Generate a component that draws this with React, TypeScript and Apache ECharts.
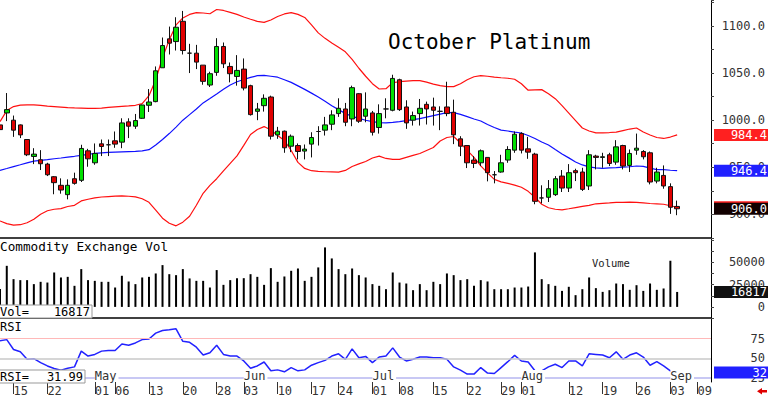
import React, { useEffect, useRef } from 'react';
import * as echarts from 'echarts';

const dates = [
  '2024-04-11','2024-04-12','2024-04-15','2024-04-16','2024-04-17','2024-04-18','2024-04-19','2024-04-22','2024-04-23','2024-04-24','2024-04-25','2024-04-26','2024-04-29','2024-04-30',
  '2024-05-01','2024-05-02','2024-05-03','2024-05-06','2024-05-07','2024-05-08','2024-05-09','2024-05-10','2024-05-13','2024-05-14','2024-05-15','2024-05-16','2024-05-17','2024-05-20','2024-05-21','2024-05-22','2024-05-23','2024-05-24','2024-05-28','2024-05-29','2024-05-30','2024-05-31',
  '2024-06-03','2024-06-04','2024-06-05','2024-06-06','2024-06-07','2024-06-10','2024-06-11','2024-06-12','2024-06-13','2024-06-14','2024-06-17','2024-06-18','2024-06-20','2024-06-21','2024-06-24','2024-06-25','2024-06-26','2024-06-27','2024-06-28',
  '2024-07-01','2024-07-02','2024-07-03','2024-07-05','2024-07-08','2024-07-09','2024-07-10','2024-07-11','2024-07-12','2024-07-15','2024-07-16','2024-07-17','2024-07-18','2024-07-19','2024-07-22','2024-07-23','2024-07-24','2024-07-25','2024-07-26','2024-07-29','2024-07-30','2024-07-31',
  '2024-08-01','2024-08-02','2024-08-05','2024-08-06','2024-08-07','2024-08-08','2024-08-09','2024-08-12','2024-08-13','2024-08-14','2024-08-15','2024-08-16','2024-08-19','2024-08-20','2024-08-21','2024-08-22','2024-08-23','2024-08-26','2024-08-27','2024-08-28','2024-08-29','2024-08-30',
  '2024-09-03','2024-09-04','2024-09-05','2024-09-06','2024-09-09','2024-09-10','2024-09-11'
];

const open = [995,1007.7,1000,995,979.5,961.5,958,953.4,940,930.9,921,937.9,936.2,967.5,954.8,974.9,973.9,978.1,976.7,998.2,993.6,1002,1015.8,1019.7,1055.6,1086.3,1083.4,1104.9,1071.1,1071.1,1058.4,1037.3,1050.7,1078.2,1057,1046.4,1054.2,1036.6,1009.4,1015.4,1024.6,984.4,988.3,972.4,973.1,967.2,974.6,988,989.4,995.7,1007,1011.9,1001.3,1028.1,1004.2,1007.7,992.2,1011.9,1010.5,1042.9,1014,1000,1007,1016.8,1014,1009.4,1014,1008.4,980.2,973.1,957.7,954.8,960.5,942.1,945,957.7,968.2,985.8,969.6,964,917.5,918.2,921,940.7,928,946.4,945,930.2,961.9,960.5,963.3,955.5,973.1,952,968.2,966.8,965.4,935.4,941.4,929.5,908.5];
const high = [998,1028.8,1004.9,995.5,980,970.3,968.2,954.8,940.7,938.3,937.2,944.3,973.9,969.6,975.3,979.5,979.5,988,1002,1002,1006.6,1016.5,1033,1057,1087.7,1099.3,1109.2,1115.9,1081,1079.9,1058.4,1051.4,1087,1082.4,1061.2,1069,1065.5,1037.6,1018.3,1027.4,1026,992.9,989,984.8,975.3,974.2,987.2,993.6,1003.5,1010.5,1023.2,1018.3,1036.6,1028.8,1029.5,1009.8,1016.8,1023.2,1048.2,1044,1021.1,1009.1,1022.5,1019.7,1023.9,1014.7,1040.8,1021.8,983,973.1,961.9,968.9,960.5,946,963.3,972.4,988,987.2,982.3,965.4,930.9,936.5,940.7,947.1,953.4,948.5,949.5,968.2,963.3,965.4,965.4,978.8,973.9,968.9,985.8,968.2,966.8,949.5,952,933,914.7];
const low = [985,999,982.3,981,961.9,953.4,947.1,940.7,921.4,922,916,931.6,934.4,950.6,952.7,961.9,961.9,970.7,970.3,981,990.8,1001.3,1008.7,1019,1055.6,1069.7,1073.9,1069.7,1050,1054.2,1037.6,1035.2,1047.1,1055.3,1040.1,1036.6,1031.6,1004.9,1000,1009.1,979.5,980.2,965.4,966.1,958.4,958.4,960.5,973.1,983.7,989.4,1003.5,993.6,993.6,997.1,997.8,983.7,985.8,1002,1009.4,1009.8,990.8,994.3,994.3,995.4,994.3,989.4,1004.2,974.6,961.9,949.2,949.2,951.3,935.1,933,944.3,954.8,965.4,964.7,959,910.8,911.8,913.2,919.6,923.8,923.8,935.4,924.9,925.9,947.8,949.5,951.3,952.7,947.8,945,963.3,958.4,931.9,933,927.3,900.6,899.2];
const close = [990,1011.2,989.4,984.4,963.3,964,953.8,942.1,933.7,925.9,930.9,933,970,959,964.7,972.1,973.9,974.6,997.1,993.6,999.6,1016.1,1019.3,1052.4,1079.2,1081.7,1098.6,1073.9,1071.1,1061.6,1041.2,1049.3,1078.2,1059.8,1049.3,1052.8,1034.1,1005.9,1011.9,1023.2,983,988.3,970.7,983,966.8,969.3,981.6,988,995,1005.6,1012.6,997.8,1034.5,998.9,1011.9,987.2,1007,1011.9,1044.3,1011.2,997.1,1004.9,1012.6,1011.9,1010.5,1009.4,1007,984.4,972.4,954.8,954.1,967.5,944.3,942.1,954.8,968.9,985.1,968.2,966.1,913.9,917.5,927.3,937.9,928,944.3,944.3,926.6,963.3,960.5,961.2,954.1,971.7,951.3,964.7,970.3,961.2,934.4,945,930.2,907.6,906];

const upper = [998.5,1010.2,1014.4,1016,1016.2,1016.2,1015.7,1014.9,1014.4,1013.9,1013.3,1013,1012.8,1012.6,1012.5,1012.8,1013.5,1014.2,1014.7,1015.2,1015.8,1017.6,1026,1042.9,1066.2,1085.2,1101.1,1108.5,1112.2,1114.1,1113.7,1112.9,1117.4,1116.4,1114.3,1112.2,1109.5,1107.1,1104.8,1103.7,1106.3,1110,1112.7,1114.1,1112.2,1109,1101.1,1092.6,1086.8,1082,1077.3,1072.5,1064.6,1055.1,1046.6,1038.7,1033.1,1033.4,1039.8,1040.8,1041.4,1041.9,1041.9,1040.3,1038.2,1036.6,1035.6,1035.6,1038.7,1042.9,1046.1,1047.2,1046.6,1045.6,1045,1044.5,1043.4,1038.7,1031.8,1032.1,1032.4,1028.1,1022.8,1015.4,1007.5,999.6,991.7,988.5,986.6,986.6,986.9,987.4,989,990.6,991.7,987.4,984.3,981.6,980.6,982.1,984.4];
const middle = [946.7,948.7,950.8,952.7,954.7,956.6,957.4,958.1,959.1,959.9,960.9,961.7,962.7,963.8,964.7,965.4,965.8,966.1,966.4,966.7,967,967.5,968.7,973.7,979.5,985.8,992.7,1000,1005.9,1011.8,1018.3,1023,1027.8,1032.7,1037.4,1040.8,1043.1,1045.4,1047.2,1047.6,1046.6,1045.6,1042.9,1040.1,1036.4,1032.7,1028.7,1024.6,1020.2,1015.4,1011.2,1007,1004.1,1001.9,999.9,998.5,997.5,997.2,997.7,998.5,999.6,1000.6,1001.7,1003.3,1004.9,1006.5,1008,1008,1006.2,1003.8,1001.2,999.1,995.4,992.2,989.5,988.5,987.4,986.4,983.7,980.6,976.9,973.7,968.9,964.2,960,955.7,952.5,950.4,949.4,948.8,949.3,949.6,950.1,950.6,951.4,951,949.2,947.6,947.5,946.9,946.4];
const lower = [893.1,890.2,888.6,889.1,891.2,894.9,900.2,903.9,905.5,906.2,908.4,909.7,914.3,916.1,917.5,918.5,919,919.5,919.6,919.3,918.7,916.6,912.9,904.5,896,890.7,887.9,891.8,898.1,909.7,922.4,930.9,937.9,946.2,954.1,962.1,973.2,984.8,990.1,993.2,989.5,983.7,978.4,967.8,955.2,948.8,946.4,945.7,945.3,945.1,944.9,946.7,950.9,953.6,956.2,959.9,961.8,959.4,958.4,958.4,960.5,962.6,964.7,967.9,971,977.9,981.6,982.7,975.8,967.9,960.5,951.5,944.1,937.2,934.6,933,931.1,928.8,924.5,918.2,910.8,907.1,905.5,904.8,906,907.3,908.5,909.7,911.3,911.8,912.2,912.7,912.9,913.1,912.7,912.2,911.6,911.2,910.8,909.2,907.6];

const volume = [20000,46200,31200,30100,30100,25600,28200,27400,38700,33100,33800,23700,42500,30100,29300,28200,28200,21800,35000,28600,25600,33100,33800,37600,47000,36800,35700,42500,32000,29300,29300,21800,41400,24800,30100,32300,32300,36800,33800,24800,43600,28200,34200,40600,43200,29300,33800,44400,66900,54500,42500,36800,43200,35700,33100,25600,23700,19900,38700,27400,26300,18800,25600,18800,28200,25600,37600,35700,30100,31200,23700,30100,28600,19900,19900,19900,21800,21800,22900,61300,31200,25600,23700,18000,22600,13200,19900,33100,21100,16900,18800,26300,25600,19200,24400,18000,26300,19200,20700,51900,16817];

const rsi = [72.5,73.8,61.3,58.3,48.8,49.6,44.6,40.4,37.1,35,37.5,39.2,59.2,52.9,55,59.2,60,60,68.3,66.7,69.6,73.8,74.6,82.1,85.4,86.3,87.5,71.7,70.4,64.2,54.2,57.1,66.7,55,52.9,52.9,46.7,37.5,40.4,45.4,34.2,35.4,32.9,38.3,34.2,35.4,41.3,44.6,47.5,52.9,55.8,48.8,62.1,50.8,52.5,44.6,51.7,52.9,63.3,51.7,46.7,48.8,51.7,51.7,50.8,50.8,48.8,39.2,35,30,30,38.3,31.3,30.8,38.3,45.8,53.8,46.7,45.4,34.2,34.2,39.2,42.5,38.3,46.7,46.7,40.4,55.8,55,54.2,50.8,58.3,48.8,54.2,57.1,51.7,41.3,45.8,40.4,34.2,31.99];
const rsiGapAfter = '2024-08-05';

const dayTicks = ['2024-04-15','2024-04-22','2024-05-01','2024-05-06','2024-05-13','2024-05-20','2024-05-28','2024-06-03','2024-06-10','2024-06-17','2024-06-24','2024-07-01','2024-07-08','2024-07-15','2024-07-22','2024-07-29','2024-08-01','2024-08-12','2024-08-19','2024-08-26','2024-09-03','2024-09-09'];
const monthTicks = ['2024-05-01','2024-06-03','2024-07-01','2024-08-01','2024-09-03'];
const monthNames = ['May','Jun','Jul','Aug','Sep'];
const priceTicks = [900, 950, 1000, 1050, 1100];
const volTicks = [0, 25000, 50000];
const rsiTicks = [25, 50, 75];

const MONO = '"DejaVu Sans Mono", monospace';

export default function App() {
  const ref = useRef<HTMLDivElement>(null);
  useEffect(() => {
    if (!ref.current) return;
    const chart = echarts.init(ref.current, null, { renderer: 'svg' });
    const gapIdx = dates.indexOf(rsiGapAfter);
    const rsiA = rsi.map((v, i) => (i <= gapIdx ? v : null));
    const rsiB = rsi.map((v, i) => (i > gapIdx ? v : null));
    const candles = open.map((o, i) => [o, close[i], low[i], high[i]]);
    const axisLabelBase = { fontFamily: MONO, fontSize: 12, color: '#333' };
    const xBase = (gridIndex: number) => ({
      type: 'category', gridIndex, position: 'bottom', data: dates, boundaryGap: false,
      axisLine: { show: true, onZero: false, lineStyle: { color: '#000', width: 1.5 } },
      axisTick: { show: false }, axisLabel: { show: false }, splitLine: { show: false },
    });
    const yBase = (gridIndex: number, min: number, max: number, interval: number, ticks: number[], fmt: (v: number) => string, showTick: boolean) => ({
      type: 'value', gridIndex, position: 'right', min, max, interval, scale: false,
      axisLine: { show: true, onZero: false, lineStyle: { color: '#000', width: 1 } },
      axisTick: { show: showTick, length: 3, lineStyle: { color: '#444' } },
      splitLine: { show: false },
      axisLabel: { ...axisLabelBase, align: 'right', margin: 54, formatter: (v: number) => (ticks.includes(v) ? fmt(v) : '') },
    });
    chart.setOption({
      animation: false,
      backgroundColor: '#fff',
      textStyle: { fontFamily: MONO },
      grid: [
        { left: -1, right: 55, top: 0, height: 238 },
        { left: -1, right: 55, top: 238, height: 80 },
        { left: -1, right: 55, top: 318, height: 65 },
      ],
      xAxis: [
        xBase(0),
        xBase(1),
        {
          ...xBase(2),
          axisLine: { show: false, onZero: false },
          axisTick: { show: true, length: 12, interval: (_i: number, v: string) => dayTicks.includes(v), lineStyle: { color: '#333', width: 1 } },
          axisLabel: { ...axisLabelBase, show: true, align: 'left', margin: 3, interval: (_i: number, v: string) => dayTicks.includes(v), formatter: (v: string) => v.slice(8) },
        },
        {
          ...xBase(2),
          z: 5,
          axisLine: { show: false, onZero: false },
          axisLabel: {
            ...axisLabelBase, show: true, inside: true, align: 'left', margin: 0,
            backgroundColor: '#fff', padding: [0, 2, 0, 0],
            interval: (_i: number, v: string) => monthTicks.includes(v),
            formatter: (v: string) => monthNames[monthTicks.indexOf(v)] || '',
          },
        },
      ],
      yAxis: [
        yBase(0, 875, 1127.5, 25, priceTicks, (v) => v.toFixed(1), true),
        yBase(1, -12500, 77500, 12500, volTicks, (v) => String(v), true),
        yBase(2, 20, 101.25, 5, rsiTicks, (v) => String(v), false),
      ],
      series: [
        { type: 'line', name: 'Upper', xAxisIndex: 0, yAxisIndex: 0, data: upper, symbol: 'none', clip: true, lineStyle: { color: '#ff1010', width: 1.2 }, z: 1 },
        { type: 'line', name: 'Middle', xAxisIndex: 0, yAxisIndex: 0, data: middle, symbol: 'none', clip: true, lineStyle: { color: '#1010ff', width: 1.2 }, z: 1 },
        { type: 'line', name: 'Lower', xAxisIndex: 0, yAxisIndex: 0, data: lower, symbol: 'none', clip: true, lineStyle: { color: '#ff1010', width: 1.2 }, z: 1 },
        {
          type: 'candlestick', name: 'Price', xAxisIndex: 0, yAxisIndex: 0, data: candles, barWidth: 5, clip: true, z: 3,
          itemStyle: { color: '#00e000', color0: '#e00000', borderColor: '#111', borderColor0: '#111', borderWidth: 1 },
        },
        { type: 'bar', name: 'Volume', xAxisIndex: 1, yAxisIndex: 1, data: volume, barWidth: 2, itemStyle: { color: '#000' } },
        {
          type: 'line', name: 'RSI', xAxisIndex: 2, yAxisIndex: 2, data: rsiA, symbol: 'none', connectNulls: false,
          lineStyle: { color: '#2222ff', width: 1.5 },
          markLine: {
            silent: true, symbol: 'none', label: { show: false },
            data: [
              { yAxis: 75, lineStyle: { color: '#ffb8b8', width: 1, type: 'solid' } },
              { yAxis: 50, lineStyle: { color: '#c8c8c8', width: 1.5, type: 'solid' } },
              { yAxis: 25, lineStyle: { color: '#c8c8f4', width: 2, type: 'solid' } },
            ],
          },
        },
        { type: 'line', name: 'RSI2', xAxisIndex: 2, yAxisIndex: 2, data: rsiB, symbol: 'none', connectNulls: false, lineStyle: { color: '#2222ff', width: 1.5 } },
      ],
    });

    const last = close.length - 1;
    const py = (axis: number, v: number) => chart.convertToPixel({ yAxisIndex: axis } as any, v) as number;
    const font12 = '12px ' + MONO;
    const markers = [
      { axis: 0, v: lower[last], bg: '#ff2020', text: '' },
      { axis: 0, v: upper[last], bg: '#ff2020', text: upper[last].toFixed(1) },
      { axis: 0, v: middle[last], bg: '#2020ff', text: middle[last].toFixed(1) },
      { axis: 0, v: close[last], bg: '#120000', text: close[last].toFixed(1) },
      { axis: 1, v: volume[last], bg: '#111', text: String(volume[last]) },
      { axis: 2, v: rsi[last], bg: '#2020ff', text: String(Math.round(rsi[last])) },
    ];
    const graphics: any[] = [];
    markers.forEach((m, k) => {
      const y = py(m.axis, m.v);
      graphics.push({ type: 'rect', id: 'mr' + k, z: 100 + 2 * k, shape: { x: 714, y: y - 6, width: 54, height: 12 }, style: { fill: m.bg } });
      if (m.text) {
        graphics.push({ type: 'text', id: 'mt' + k, z: 101 + 2 * k, x: 767, y, style: { text: m.text, fill: '#fff', font: font12, textAlign: 'right', align: 'right', textVerticalAlign: 'middle', verticalAlign: 'middle' } });
      }
    });
    const txt = (id: string, x: number, y: number, text: string, size: number, fill = '#000', align = 'left') => ({
      type: 'text', id, z: 120, x, y,
      style: { text, fill, font: `${size}px ${MONO}`, textAlign: align, align, textVerticalAlign: 'middle', verticalAlign: 'middle' },
    });
    graphics.push(txt('title', 388, 42, 'October Platinum', 21));
    graphics.push(txt('volTitle', 0, 246, 'Commodity Exchange Vol', 12.7));
    graphics.push(txt('volName', 592, 262.5, 'Volume', 10.5, '#222'));
    graphics.push(txt('rsiTitle', 0, 327, 'RSI', 12));
    graphics.push({ type: 'rect', id: 'volBox', z: 115, shape: { x: -1, y: 305, width: 93, height: 13 }, style: { fill: '#fff', stroke: '#999', lineWidth: 1 } });
    graphics.push(txt('volLbl', 0, 311.5, 'Vol=', 12));
    graphics.push(txt('volVal', 90, 311.5, String(volume[last]), 12, '#000', 'right'));
    graphics.push({ type: 'rect', id: 'rsiBox', z: 115, shape: { x: -1, y: 370, width: 86, height: 13 }, style: { fill: '#fff', stroke: '#999', lineWidth: 1 } });
    graphics.push(txt('rsiLbl', 0, 376.5, 'RSI=', 12));
    graphics.push(txt('rsiVal', 83, 376.5, rsi[last].toFixed(2), 12, '#000', 'right'));
    graphics.push({
      type: 'polygon', id: 'arrow', z: 100,
      shape: { points: [[757, 391.3], [762, 388], [762, 390], [767, 390], [767, 392.6], [762, 392.6], [762, 394.6]] },
      style: { fill: '#e00000' },
    });
    chart.setOption({ graphic: graphics });
    return () => chart.dispose();
  }, []);
  return (
    <div
      ref={ref}
      style={{ position: 'fixed', left: 0, top: 0, width: 768, height: 397, background: '#fff' }}
    />
  );
}
